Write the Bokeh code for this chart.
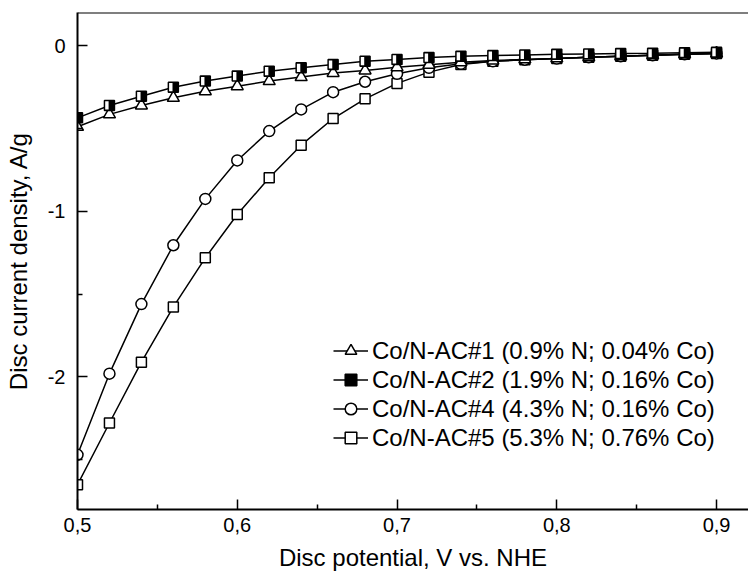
from bokeh.plotting import figure
from bokeh.models import (Legend, LegendItem, FixedTicker, CustomJSTickFormatter,
                          ColumnDataSource, Span)
from bokeh.transform import dodge
from bokeh.embed import file_html
from bokeh.resources import INLINE

# ---- data ----
potential = [0.50, 0.52, 0.54, 0.56, 0.58, 0.60, 0.62, 0.64, 0.66, 0.68, 0.70,
             0.72, 0.74, 0.76, 0.78, 0.80, 0.82, 0.84, 0.86, 0.88, 0.90]
j_ac1 = [-0.490, -0.415, -0.361, -0.315, -0.275, -0.245, -0.214, -0.190, -0.165, -0.150, -0.130,
         -0.115, -0.100, -0.090, -0.083, -0.077, -0.070, -0.064, -0.058, -0.052, -0.047]
j_ac2 = [-0.436, -0.361, -0.305, -0.251, -0.214, -0.184, -0.154, -0.134, -0.114, -0.094, -0.083,
         -0.072, -0.064, -0.060, -0.056, -0.052, -0.050, -0.048, -0.046, -0.043, -0.040]
j_ac4 = [-2.470, -1.980, -1.560, -1.205, -0.925, -0.693, -0.516, -0.385, -0.281, -0.218, -0.170,
         -0.134, -0.110, -0.095, -0.085, -0.078, -0.070, -0.064, -0.058, -0.052, -0.047]
j_ac5 = [-2.650, -2.278, -1.911, -1.577, -1.281, -1.019, -0.798, -0.601, -0.440, -0.321, -0.228,
         -0.160, -0.114, -0.095, -0.085, -0.078, -0.070, -0.064, -0.058, -0.052, -0.047]
series_labels = ["Co/N-AC#1 (0.9% N; 0.04% Co)",
                 "Co/N-AC#2 (1.9% N; 0.16% Co)",
                 "Co/N-AC#4 (4.3% N; 0.16% Co)",
                 "Co/N-AC#5 (5.3% N; 0.76% Co)"]
x_major = [0.5, 0.6, 0.7, 0.8, 0.9]
x_minor = [0.55, 0.65, 0.75, 0.85]
y_major = [-2, -1, 0]
y_minor = [-2.5, -1.5, -0.5]
x_title = "Disc potential, V vs. NHE"
y_title = "Disc current density, A/g"

FONT = "Liberation Sans"

p = figure(width=748, height=576, x_range=(0.5, 0.92), y_range=(-2.8, 0.2),
           output_backend="svg", toolbar_location=None,
           min_border_left=77, min_border_right=0, min_border_top=12, min_border_bottom=67)
p.grid.visible = False
p.outline_line_color = None
p.background_fill_color = "white"
p.border_fill_color = "white"

# top frame line
p.add_layout(Span(location=0.2, dimension="width", line_color="black", line_width=2))

for ax in (p.xaxis[0], p.yaxis[0]):
    ax.axis_line_width = 2
    ax.axis_line_color = "black"
    ax.major_tick_in = 10
    ax.major_tick_out = 0
    ax.minor_tick_in = 5
    ax.minor_tick_out = 0
    ax.major_tick_line_width = 1.5
    ax.minor_tick_line_width = 1.5
    ax.major_label_text_font = FONT
    ax.major_label_text_font_size = "20px"
    ax.major_label_text_color = "black"
    ax.axis_label_text_font = FONT
    ax.axis_label_text_font_size = "24px"
    ax.axis_label_text_font_style = "normal"
    ax.axis_label_text_color = "black"

p.xaxis.ticker = FixedTicker(ticks=x_major, minor_ticks=x_minor)
p.yaxis.ticker = FixedTicker(ticks=y_major, minor_ticks=y_minor)
p.xaxis.formatter = CustomJSTickFormatter(code="return tick.toFixed(1).replace('.', ',');")
p.yaxis.formatter = CustomJSTickFormatter(code="return tick.toFixed(0);")
p.xaxis.major_label_standoff = 8
p.yaxis.major_label_standoff = 12
p.xaxis.axis_label = x_title
p.yaxis.axis_label = y_title
p.xaxis.axis_label_standoff = 9
p.yaxis.axis_label_standoff = 13

LW = 1.5
s5 = ColumnDataSource(dict(x=potential, y=j_ac5))
s4 = ColumnDataSource(dict(x=potential, y=j_ac4))
s1 = ColumnDataSource(dict(x=potential, y=j_ac1))
s2 = ColumnDataSource(dict(x=potential, y=j_ac2))

l5 = p.line("x", "y", source=s5, line_color="black", line_width=LW)
m5 = p.scatter("x", "y", source=s5, marker="square", size=10, fill_color="white",
               line_color="black", line_width=LW)
l4 = p.line("x", "y", source=s4, line_color="black", line_width=LW)
m4 = p.scatter("x", "y", source=s4, marker="circle", size=11, fill_color="white",
               line_color="black", line_width=LW)
l1 = p.line("x", "y", source=s1, line_color="black", line_width=LW)
m1 = p.scatter("x", "y", source=s1, marker="triangle", size=12, fill_color="white",
               line_color="black", line_width=LW)
l2 = p.line("x", "y", source=s2, line_color="black", line_width=LW)
m2 = p.scatter("x", "y", source=s2, marker="square", size=10, fill_color="black",
               line_color="black", line_width=LW)
# white left part inside the square -> half-filled marker
p.rect(x=dodge("x", -0.0016, range=p.x_range), y="y", source=s2, width=3.4, height=8.2,
       width_units="screen", height_units="screen", fill_color="white", line_color=None)

items = [LegendItem(label=series_labels[0], renderers=[l1, m1]),
         LegendItem(label=series_labels[1], renderers=[l2, m2]),
         LegendItem(label=series_labels[2], renderers=[l4, m4]),
         LegendItem(label=series_labels[3], renderers=[l5, m5])]
legend = Legend(items=items, location=(256, 57), glyph_width=35, glyph_height=29,
                label_height=29, label_standoff=4, spacing=0, padding=0, margin=0,
                border_line_color=None, background_fill_alpha=0,
                label_text_font=FONT, label_text_font_size="24px",
                label_text_color="black")
p.add_layout(legend)

open("out.html", "w").write(file_html(p, INLINE))
